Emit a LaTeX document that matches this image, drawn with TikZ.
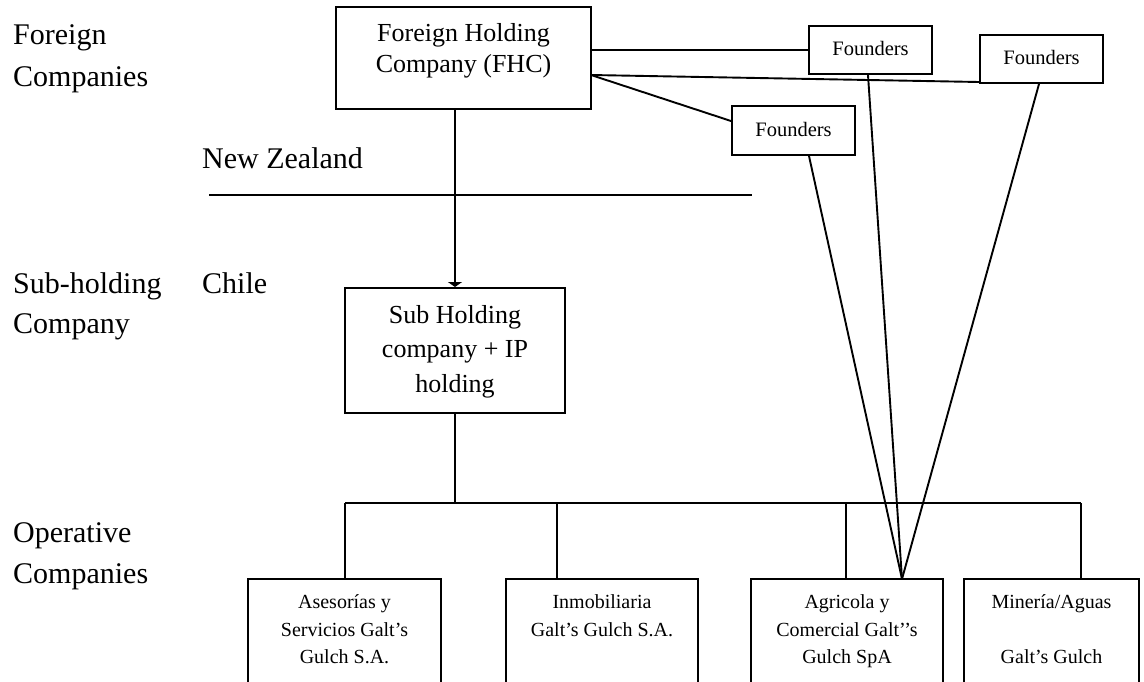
\documentclass[tikz,border=0pt]{standalone}
\usepackage{fontspec}
\setmainfont{Liberation Serif}
\usetikzlibrary{arrows.meta}
\begin{document}
\begin{tikzpicture}[x=1pt,y=-1pt,
  box/.style={draw,line width=2pt,inner sep=0pt,minimum width=#1},
  lside/.style={anchor=base west,inner sep=0pt,font=\fontsize{30}{36}\selectfont},
  bigtxt/.style={anchor=base,inner sep=0pt,font=\fontsize{26}{32}\selectfont},
  fndtxt/.style={anchor=base,inner sep=0pt,font=\fontsize{20.5}{25}\selectfont},
  optxt/.style={anchor=base,inner sep=0pt,font=\fontsize{20}{24}\selectfont},
  conn/.style={line width=1.9pt}]
\clip (0,0) rectangle (1144,682);
% boxes
\node[box=255pt,minimum height=102pt] (fhc) at (463.5,58) {};
\node[box=123pt,minimum height=48pt] (f1) at (870.5,50) {};
\node[box=123pt,minimum height=48pt] (f2) at (1041.5,59) {};
\node[box=123pt,minimum height=49pt] (f3) at (793.5,130.5) {};
\node[box=220pt,minimum height=125pt] (sub) at (455,350.5) {};
\node[box=193pt,minimum height=150pt] (b1) at (344.5,654) {};
\node[box=192pt,minimum height=150pt] (b2) at (602,654) {};
\node[box=192pt,minimum height=150pt] (b3) at (847,654) {};
\node[box=175pt,minimum height=150pt] (b4) at (1051.5,654) {};
% texts in boxes
\node[bigtxt] (fhct1) at (463.5,42) {Foreign Holding};
\node[bigtxt] (fhct2) at (463.5,73) {Company (FHC)};
\node[fndtxt] (f1t) at (870.5,56) {Founders};
\node[fndtxt] (f2t) at (1041.5,65) {Founders};
\node[fndtxt] (f3t) at (793.5,137) {Founders};
\node[bigtxt] (subt1) at (455,323) {Sub Holding};
\node[bigtxt] (subt2) at (455,357) {company + IP};
\node[bigtxt] (subt3) at (455,392) {holding};
\node[optxt] (b1t1) at (344.5,608) {Asesorías y};
\node[optxt] (b1t2) at (344.5,636) {Servicios Galt’s};
\node[optxt] (b1t3) at (344.5,663) {Gulch S.A.};
\node[optxt] (b2t1) at (602,608) {Inmobiliaria};
\node[optxt] (b2t2) at (602,636) {Galt’s Gulch S.A.};
\node[optxt] (b3t1) at (847,608) {Agricola y};
\node[optxt] (b3t2) at (847,636) {Comercial Galt’’s};
\node[optxt] (b3t3) at (847,663) {Gulch SpA};
\node[optxt] (b4t1) at (1051.5,608) {Minería/Aguas};
\node[optxt] (b4t3) at (1051.5,663) {Galt’s Gulch};
% side labels
\node[lside] (l1a) at (13,45) {Foreign};
\node[lside] (l1b) at (13,87) {Companies};
\node[lside] (nz) at (202,168) {New Zealand};
\node[lside] (l2a) at (13,293) {Sub-holding};
\node[lside] (l2b) at (13,333) {Company};
\node[lside] (chile) at (202,293) {Chile};
\node[lside] (l3a) at (13,542) {Operative};
\node[lside] (l3b) at (13,583) {Companies};
% coordinates
\coordinate (fe) at (591,75);
\coordinate (nzL) at (209,195);
\coordinate (nzR) at (752,195);
\coordinate (bus) at (455,503);
\coordinate (busL) at (345,503);
\coordinate (busR) at (1081,503);
\coordinate (d2) at (557,503);
\coordinate (d3) at (846,503);
\coordinate (conv) at (902,579);
% connectors
\draw[conn] (f1.west -| fhc.east) -- (f1.west);
\draw[conn] (fe) -- ([yshift=2pt]f2.south west);
\draw[conn] (fe) -- ([yshift=9.5pt]f3.west);
\draw[line width=2.6pt,-{Triangle[width=14pt,length=5pt]}] (sub.north |- fhc.south) -- (sub.north);
\draw[conn] (nzL) -- (nzR);
\draw[conn] (sub.south) -- (bus);
\draw[conn] (busL) -- (busR);
\draw[conn] (busL) -- (busL |- b1.north);
\draw[conn] (d2) -- (d2 |- b2.north);
\draw[conn] (d3) -- (d3 |- b3.north);
\draw[conn] (busR) -- (busR |- b4.north);
\draw[conn] ([xshift=-2.5pt]f1.south) -- (conv);
\draw[conn] ([xshift=-2.5pt]f2.south) -- (conv);
\draw[conn] ([xshift=15.5pt]f3.south) -- (conv);
\end{tikzpicture}
\end{document}
